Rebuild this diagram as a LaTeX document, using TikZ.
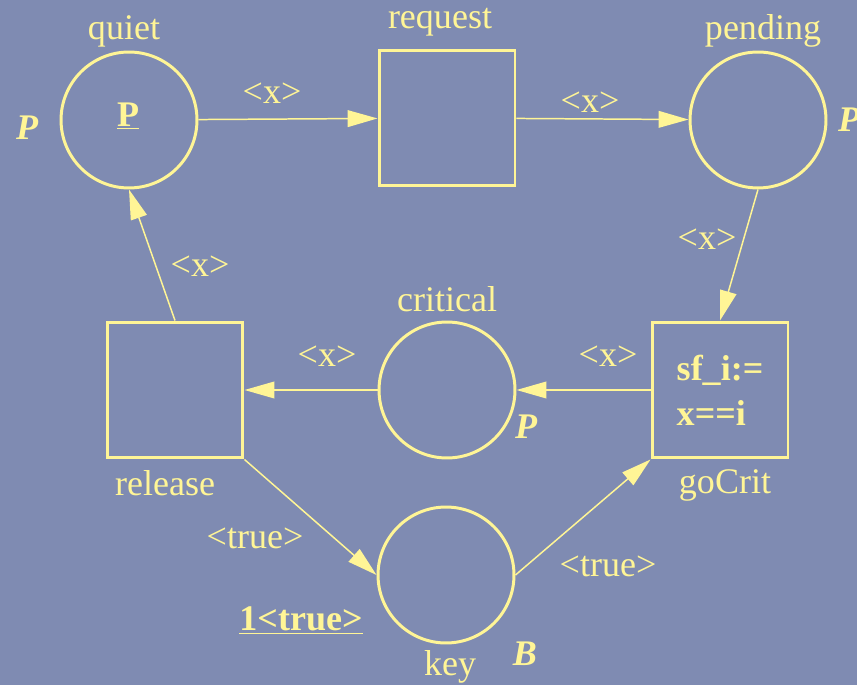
\documentclass[tikz,border=0pt]{standalone}
\usepackage{fontspec}
\setmainfont{Liberation Serif}
\usetikzlibrary{arrows.meta}
\definecolor{bgblue}{RGB}{127,139,178}
\definecolor{petri}{RGB}{255,245,150}
\tikzset{
	place/.style={circle, draw=petri, line width=1.7pt, minimum size=2.72cm, inner sep=0pt},
	trans/.style={rectangle, draw=petri, line width=1.7pt, minimum size=2.72cm, inner sep=0pt},
	arc/.style={draw=petri, line width=0.85pt, -{Triangle[length=17pt,width=9.5pt]}},
	lbl/.style={anchor=base, inner sep=0pt},
	kind/.style={anchor=base, inner sep=0pt, font=\fontsize{20.5}{24.5}\selectfont\bfseries\itshape}
}
\begin{document}
\begin{tikzpicture}[x=0.02cm, y=-0.02cm, every node/.append style={text=petri},
	font=\fontsize{20.5}{24.5}\selectfont]
			
			% 1. Nen
			\fill[bgblue] (0,0) rectangle (857,685);
			\useasboundingbox (0,0) rectangle (857,685);
			
			% 2. Cac place va transition
			\node[place] (quiet) at (129,120) {};
			\node[trans] (request) at (447,118) {};
			\node[place] (pending) at (758,120) {};
			\node[trans] (release) at (175,390) {};
			\node[place] (critical) at (447,390) {};
			\node[trans, align=left, font=\fontsize{20.5}{25.5}\selectfont\bfseries] (goCrit) at (720,390) {sf\_i:=\\x==i};
			\node[place] (key) at (446,575) {};
			
			% 3. Ten
			\node[lbl] (nquiet) at (124,40) {quiet};
			\node[lbl] (nrequest) at (440,29) {request};
			\node[lbl] (npending) at (763,40) {pending};
			\node[lbl] (ncritical) at (447,312) {critical};
			\node[lbl] (nrelease) at (165,495) {release};
			\node[lbl] (ngoCrit) at (725,493) {goCrit};
			\node[lbl] (nkey) at (450,675) {key};
			
			% 4. Kieu mau va token
			\node[kind] (kquiet) at (27,140) {P};
			\node[kind] (kpending) at (849,132) {P};
			\node[kind] (kcritical) at (526,438) {P};
			\node[kind] (kkey) at (525,665) {B};
			\node (tquiet) at (128,116) {\underline{\textbf{P}}};
			\node[lbl] (tkey) at (301,630) {\underline{\textbf{1<true>}}};
			
			% 5. Cac cung
			\draw[arc] (quiet) -- (request);
			\draw[arc] (request) -- (pending);
			\draw[arc] (pending.south) -- (goCrit.north);
			\draw[arc] (goCrit) -- (critical);
			\draw[arc] (critical) -- (release);
			\draw[arc] (release.north) -- (quiet.south);
			\draw[arc] (release.south east) -- (key.west);
			\draw[arc] (key.east) -- (goCrit.south west);
			
			% 6. Nhan cung
			\node[lbl] (e1) at (272,104) {<x>};
			\node[lbl] (e2) at (590,113) {<x>};
			\node[lbl] (e3) at (707,250) {<x>};
			\node[lbl] (e4) at (608,366) {<x>};
			\node[lbl] (e5) at (327,366) {<x>};
			\node[lbl] (e6) at (200,277) {<x>};
			\node[lbl] (e7) at (255,548) {<true>};
			\node[lbl] (e8) at (608,576) {<true>};
			
		\end{tikzpicture}
\end{document}
